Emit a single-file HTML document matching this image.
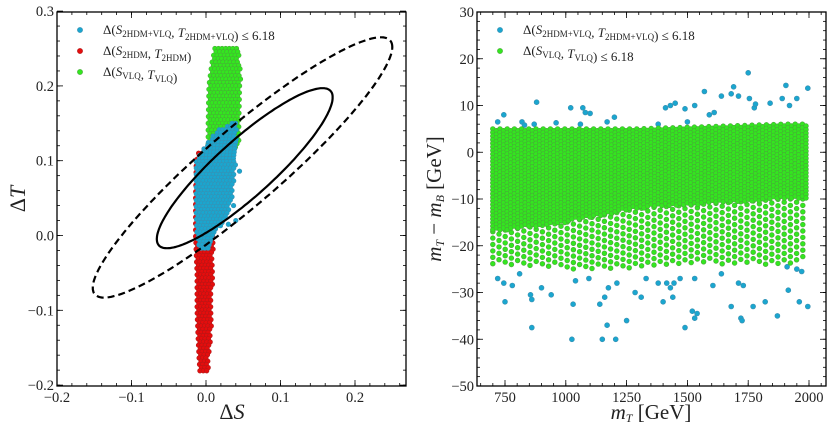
<!DOCTYPE html>
<html><head><meta charset="utf-8">
<style>
html,body{margin:0;padding:0;background:#fff;}
svg{display:block;font-family:"Liberation Serif","DejaVu Serif",serif;}
</style></head>
<body>
<svg id="chart" width="831" height="432" viewBox="0 0 831 432" xmlns="http://www.w3.org/2000/svg"></svg>
<script>
// ---------- LEFT PANEL DATA ----------
const leftXTicks = [-0.2, -0.1, 0.0, 0.1, 0.2];
const leftXTickLabels = ["\u22120.2", "\u22120.1", "0.0", "0.1", "0.2"];
const leftYTicks = [-0.2, -0.1, 0.0, 0.1, 0.2, 0.3];
const leftYTickLabels = ["\u22120.2", "\u22120.1", "0.0", "0.1", "0.2", "0.3"];
const ellipseCenterS = [0.049, 0.052];
const ellipseCenterT = [0.091, 0.09];
const ellipseHalfS = [0.201, 0.118];
const ellipseHalfT = [0.174, 0.107];
const ellipseRho = [0.925, 0.885];
const greenT = [0.10, 0.12, 0.15, 0.20, 0.23, 0.25];
const greenSmin = [0.005, 0.003, 0.003, 0.004, 0.008, 0.012];
const greenSmax = [0.03, 0.045, 0.045, 0.047, 0.047, 0.042];
const redT = [-0.185, -0.15, -0.10, -0.05, 0.0, 0.05, 0.10, 0.11];
const redSmin = [-0.008, -0.01, -0.012, -0.012, -0.014, -0.014, -0.013, -0.01];
const redSmax = [0.002, 0.006, 0.008, 0.009, 0.01, 0.01, 0.01, 0.0];
const blueT = [-0.02, 0.0, 0.03, 0.05, 0.10, 0.12, 0.14, 0.15];
const blueSmin = [-0.008, -0.012, -0.013, -0.013, -0.013, 0.0, 0.015, 0.035];
const blueSmax = [0.003, 0.012, 0.03, 0.036, 0.04, 0.04, 0.042, 0.042];
const blueOutS = [0.045, 0.04, 0.037, 0.03];
const blueOutT = [0.086, 0.02, 0.04, 0.015];

// ---------- RIGHT PANEL DATA ----------
const rightXTicks = [750, 1000, 1250, 1500, 1750, 2000];
const rightYTicks = [-50, -40, -30, -20, -10, 0, 10, 20, 30];
const rightYTickLabels = ["\u221250", "\u221240", "\u221230", "\u221220", "\u221210", "0", "10", "20", "30"];
const bandMT = [700, 1000, 1300, 1600, 1900, 2000];
const bandTop = [5, 5, 5, 5.5, 6, 6];
const bandDenseBottom = [-17, -15, -12, -11, -10, -10];
const bandSparseBottom = [-24, -25, -25, -24, -24, -23];
const outMT = [720,745,750,780,810,860,855,860,900,940,880,745,720,820,1025,1030,1040,1095,1020,1070,1080,1100,1140,1150,1160,1170,1175,1205,1210,1250,1285,1310,1330,1380,1400,1415,1430,1440,1445,1470,1490,1520,1530,1540,1530,1450,1430,1410,1490,1530,1570,1610,1605,1640,1640,1680,1680,1690,1710,1710,1720,1725,1730,1750,1755,1770,1775,1780,1820,1840,1870,1890,1905,1920,1910,1915,1950,1950,1960,1970,1995,1995,1380,1500,1590,1200,1170,1060,960,870,830];
const outDM = [-27,-28,-32,-28.5,-26,-37.5,-30.5,-31.5,-29,-30.5,10.7,8,6.5,6.5,-40,-32.5,-27.5,-27,9.5,9.5,8.5,8.3,-32.5,-40,-31,-37,-29,-40,-28,-36,-30,-31,-27,-28,-32,-28,-29,-31,-28,-27,-37.5,-34,-35.5,-34.5,-27,10.5,10,9.5,9.3,10,13,8.5,-28.5,-26,12,-33,12.5,14,12,-28,-35.5,-36,-28.5,17,11.5,-33,9.5,10.3,-32,10.5,-35,11.5,14.3,10,-24.5,-29.5,11.5,-25,-32,-25.5,13.7,-33,6,6.5,8,7.5,6.5,6,6.3,6,5.8];

const NS = "http://www.w3.org/2000/svg";
const svg = document.getElementById('chart');
function mk(tag, attrs, parent){ const e=document.createElementNS(NS,tag); for(const k in attrs) e.setAttribute(k,attrs[k]); (parent||svg).appendChild(e); return e; }
function interp(xs, ys, v){ if(v<=xs[0]) return ys[0]; for(let i=1;i<xs.length;i++){ if(v<=xs[i]){ const t=(v-xs[i-1])/(xs[i]-xs[i-1]); return ys[i-1]+t*(ys[i]-ys[i-1]); } } return ys[ys.length-1]; }

const L = {x0:57, x1:406, y0:12, y1:386};
const lx = s => 206 + (s-0)*745;
const ly = t => 235.5 - t*748;
const gL = mk('g',{});  
const clipL = mk('clipPath',{id:'clipL'}); mk('rect',{x:L.x0,y:L.y0,width:L.x1-L.x0,height:L.y1-L.y0},clipL);
const gLp = mk('g',{'clip-path':'url(#clipL)'},gL);

function fillBand(g, Ts, Smin, Smax, fill, stroke, name, xf, yf, dy, dx){
  const tTop = Math.max(...Ts), tBot = Math.min(...Ts);
  let row=0;
  for(let py=yf(tTop); py<=yf(tBot)+0.1; py+=dy, row++){
    const t = tTop - (py-yf(tTop))/(yf(tBot)-yf(tTop))*(tTop-tBot);
    const a = xf(interp(Ts,Smin,t)), b = xf(interp(Ts,Smax,t));
    for(let px=a+(row%2)*dx/2; px<=b; px+=dx){
      const c = mk('circle',{cx:px.toFixed(1),cy:py.toFixed(1),r:2.3,fill:fill,stroke:stroke,'stroke-width':0.6},g);
      
      
    }
  }
}
fillBand(gLp, greenT, greenSmin, greenSmax, '#33e61f', '#4aa83a', 'vlq-point', lx, ly, 3.4, 3.6);
fillBand(gLp, redT, redSmin, redSmax, '#e50d0d', '#b01818', '2hdm-point', lx, ly, 3.2, 3.4);
fillBand(gLp, blueT, blueSmin, blueSmax, '#1aa6cf', '#3b8fb0', '2hdm-vlq-point', lx, ly, 3.2, 3.4);
for(let i=0;i<blueOutS.length;i++){
  const c=mk('circle',{cx:lx(blueOutS[i]),cy:ly(blueOutT[i]),r:2.3,fill:'#1aa6cf',stroke:'#3b8fb0','stroke-width':0.6},gLp);
  
  
}
for(let k=0;k<2;k++){
  let d='';
  for(let i=0;i<=200;i++){
    const th=i/200*2*Math.PI;
    const s=ellipseCenterS[k]+ellipseHalfS[k]*Math.cos(th);
    const t=ellipseCenterT[k]+ellipseHalfT[k]*(ellipseRho[k]*Math.cos(th)+Math.sqrt(1-ellipseRho[k]**2)*Math.sin(th));
    d+=(i?'L':'M')+lx(s).toFixed(1)+','+ly(t).toFixed(1);
  }
  const p=mk('path',{d:d+'Z',fill:'none',stroke:'#000','stroke-width':2.2,'stroke-dasharray':k===0?'7,4':'none'},gLp);
  
  
}

function frameAndTicks(g, B, xMaj, xMin, yMaj, yMin, xf, yf, xLabels, yLabels, xName, yName){
  const r=mk('rect',{x:B.x0,y:B.y0,width:B.x1-B.x0,height:B.y1-B.y0,fill:'none',stroke:'#000','stroke-width':1.3},g);
   
  const tg=mk('g',{stroke:'#000','stroke-width':0.8},g);
  xMin.forEach(v=>{const x=xf(v); if(x>=B.x0&&x<=B.x1){mk('line',{x1:x,x2:x,y1:B.y1,y2:B.y1-3},tg);mk('line',{x1:x,x2:x,y1:B.y0,y2:B.y0+3},tg);}});
  yMin.forEach(v=>{const y=yf(v); if(y>=B.y0&&y<=B.y1){mk('line',{x1:B.x0,x2:B.x0+3,y1:y,y2:y},tg);mk('line',{x1:B.x1,x2:B.x1-3,y1:y,y2:y},tg);}});
  xMaj.forEach((v,i)=>{const x=xf(v); mk('line',{x1:x,x2:x,y1:B.y1,y2:B.y1-6},tg);mk('line',{x1:x,x2:x,y1:B.y0,y2:B.y0+6},tg);
    const t=mk('text',{x:x,y:B.y1+16,'text-anchor':'middle','font-size':14.5,fill:'#222'},g); t.textContent=xLabels[i];
     });
  yMaj.forEach((v,i)=>{const y=yf(v); mk('line',{x1:B.x0,x2:B.x0+6,y1:y,y2:y},tg);mk('line',{x1:B.x1,x2:B.x1-6,y1:y,y2:y},tg);
    const t=mk('text',{x:B.x0-3,y:y+5,'text-anchor':'end','font-size':14.5,fill:'#222'},g); t.textContent=yLabels[i];
     });
}
const lxMin=[],lyMin=[];
for(let v=-0.26;v<=0.3;v+=0.02) lxMin.push(+v.toFixed(2));
for(let v=-0.2;v<=0.3;v+=0.02) lyMin.push(+v.toFixed(2));
frameAndTicks(gL,L,leftXTicks,lxMin,leftYTicks,lyMin,lx,ly,leftXTickLabels,leftYTickLabels,'x-tick-label','y-tick-label');

function addText(g, html, attrs, name){ const t=mk('text',attrs,g); t.innerHTML=html;   return t; }
addText(gL,'\u0394<tspan font-style="italic">S</tspan>',{x:232,y:419,'text-anchor':'middle','font-size':22,fill:'#222'},'x-axis-title');
addText(gL,'\u0394<tspan font-style="italic">T</tspan>',{x:0,y:0,transform:'translate(25,199) rotate(-90)','text-anchor':'middle','font-size':22,fill:'#222'},'y-axis-title');

const sub = s => `<tspan font-size="9" dy="3">${s}</tspan><tspan dy="-3"></tspan>`;
function legend(g, x, y, fill, stroke, html, name){
  const lg=mk('g',{},g);  
  mk('circle',{cx:x,cy:y-4,r:2.6,fill:fill,stroke:stroke,'stroke-width':0.6},lg);
  const t=mk('text',{x:x+23,y:y,'font-size':13,fill:'#222'},lg); t.innerHTML=html;
}
legend(gL,80,34,'#1aa6cf','#3b8fb0',`\u0394(<tspan font-style="italic">S</tspan>${sub('2HDM+VLQ')}, <tspan font-style="italic">T</tspan>${sub('2HDM+VLQ')}) \u2264 6.18`,'legend-entry-2hdm-vlq');
legend(gL,80,55,'#e50d0d','#b01818',`\u0394(<tspan font-style="italic">S</tspan>${sub('2HDM')}, <tspan font-style="italic">T</tspan>${sub('2HDM')})`,'legend-entry-2hdm');
legend(gL,80,76,'#33e61f','#4aa83a',`\u0394(<tspan font-style="italic">S</tspan>${sub('VLQ')}, <tspan font-style="italic">T</tspan>${sub('VLQ')})`,'legend-entry-vlq');

const R = {x0:477, x1:826, y0:12, y1:386};
const rx = m => 505 + (m-750)*0.2432;
const ry = v => 12 + (30-v)*4.675;
const gR = mk('g',{});  
const clipR = mk('clipPath',{id:'clipR'}); mk('rect',{x:R.x0,y:R.y0,width:R.x1-R.x0,height:R.y1-R.y0},clipR);
const gRp = mk('g',{'clip-path':'url(#clipR)'},gR);

for(let i=0;i<outMT.length;i++){
  const c=mk('circle',{cx:rx(outMT[i]).toFixed(1),cy:ry(outDM[i]).toFixed(1),r:2.5,fill:'#1aa6cf',stroke:'#3b8fb0','stroke-width':0.6},gRp);
  
  
}
function fillBandX(g, Xs, Top, Bot, dx, dy, name){
  let col=0;
  for(let px=rx(Xs[0]); px<=rx(Xs[Xs.length-1]); px+=dx, col++){
    const m = Xs[0] + (px-rx(Xs[0]))/0.2432;
    const a=ry(interp(Xs,Top,m)), b=ry(interp(Xs,Bot,m));
    for(let py=a+(col%2)*dy/2; py<=b; py+=dy){
      const c=mk('circle',{cx:px.toFixed(1),cy:py.toFixed(1),r:2.4,fill:'#33e61f',stroke:'#4aa83a','stroke-width':0.6},g);
      
      
    }
  }
}
fillBandX(gRp, bandMT, bandDenseBottom, bandSparseBottom, 6.2, 6.4, 'vlq-point');
fillBandX(gRp, bandMT, bandTop, bandDenseBottom, 3.6, 3.6, 'vlq-point');

const rxMin=[],ryMin=[];
for(let v=650;v<=2050;v+=50) rxMin.push(v);
for(let v=-50;v<=30;v+=2) ryMin.push(v);
frameAndTicks(gR,R,rightXTicks,rxMin,rightYTicks,ryMin,rx,ry,rightXTicks.map(String),rightYTickLabels,'x-tick-label','y-tick-label');
addText(gR,'<tspan font-style="italic">m</tspan><tspan font-style="italic" font-size="12" dy="3">T</tspan><tspan dy="-3"> [GeV]</tspan>',{x:651,y:419,'text-anchor':'middle','font-size':21,fill:'#222'},'x-axis-title');
addText(gR,'<tspan font-style="italic">m</tspan><tspan font-style="italic" font-size="12" dy="3">T</tspan><tspan dy="-3"> \u2212 </tspan><tspan font-style="italic">m</tspan><tspan font-style="italic" font-size="12" dy="3">B</tspan><tspan dy="-3"> [GeV]</tspan>',{x:0,y:0,transform:'translate(441,199) rotate(-90)','text-anchor':'middle','font-size':21,fill:'#222'},'y-axis-title');
legend(gR,500,34,'#1aa6cf','#3b8fb0',`\u0394(<tspan font-style="italic">S</tspan>${sub('2HDM+VLQ')}, <tspan font-style="italic">T</tspan>${sub('2HDM+VLQ')}) \u2264 6.18`,'legend-entry-2hdm-vlq');
legend(gR,500,55,'#33e61f','#4aa83a',`\u0394(<tspan font-style="italic">S</tspan>${sub('VLQ')}, <tspan font-style="italic">T</tspan>${sub('VLQ')}) \u2264 6.18`,'legend-entry-vlq');
</script>
</body></html>
